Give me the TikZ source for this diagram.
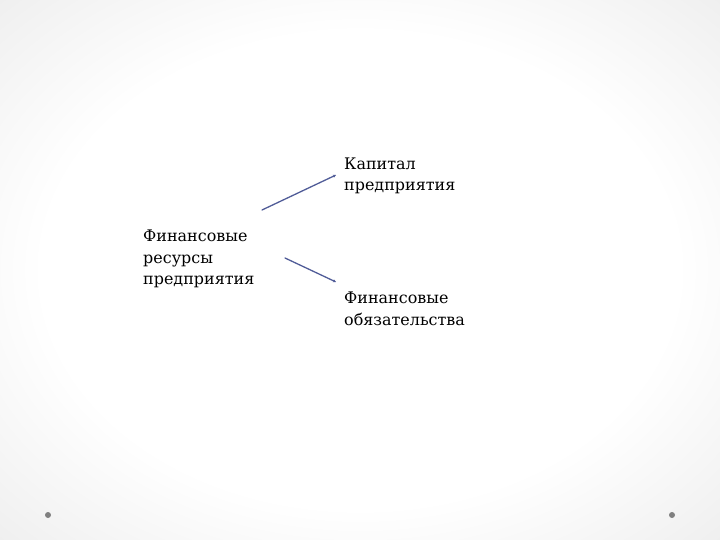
\documentclass[tikz,border=0pt]{standalone}
\usepackage{fontspec}
\setmainfont{DejaVu Serif}
\usetikzlibrary{arrows.meta}
\pgfdeclareradialshading{slidebg}{\pgfpoint{0bp}{0bp}}{%
  color(0bp)=(white); color(22bp)=(white); color(35bp)=(black!6);
  color(45bp)=(black!14); color(60bp)=(black!22)}
\tikzset{
  label/.style={anchor=base west,inner sep=0pt,align=left,
    font=\fontsize{16}{21.6}\selectfont},
  link/.style={draw=arrowblue,line width=1.3pt,-{Stealth[length=3pt,width=3pt]}},
}
\definecolor{arrowblue}{HTML}{505C98}
\begin{document}
\begin{tikzpicture}[x=1bp,y=-1bp,line join=round,line cap=round]
			\useasboundingbox (0,0) rectangle (720,540);
			\shade[shading=slidebg] (0,0) rectangle (720,540);
			\path
			(262,210) coordinate (R1)
			(336,175) coordinate (K1)
			(285,258) coordinate (R2)
			(336,282) coordinate (O1)
			;
			\node[label] (res) at (143,285) {Финансовые\\ресурсы\\предприятия};
			\node[label] (kap) at (344,191) {Капитал\\предприятия};
			\node[label] (obj) at (344,325) {Финансовые\\обязательства};
			\draw[link]
			(R1)--(K1)
			;
			\draw[link]
			(R2)--(O1)
			;
			\fill[black!50]
			(48,515) circle (3)
			(672,515) circle (3)
			;
			\end{tikzpicture}
\end{document}
